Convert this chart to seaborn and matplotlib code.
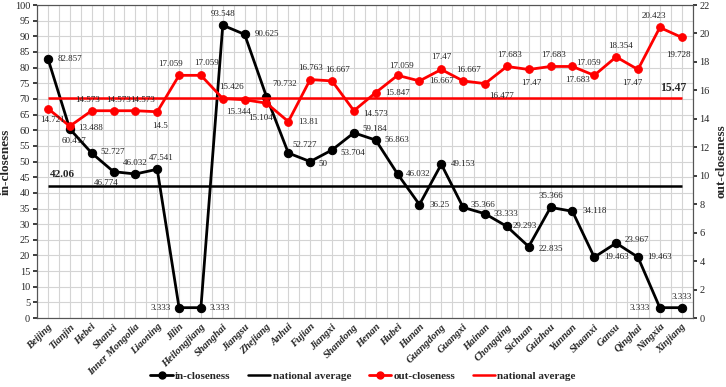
import matplotlib
matplotlib.use("Agg")
import matplotlib.pyplot as plt
import numpy as np
import seaborn as sns
from matplotlib.lines import Line2D

sns.set_theme(style="white")
plt.rcParams["font.family"] = ["Liberation Serif", "DejaVu Serif"]

provinces = ["Beijing", "Tianjin", "Hebei", "Shanxi", "Inner Mongolia", "Liaoning", "Jilin",
             "Heilongjiang", "Shanghai", "Jiangsu", "Zhejiang", "Anhui", "Fujian", "Jiangxi",
             "Shandong", "Henan", "Hubei", "Hunan", "Guangdong", "Guangxi", "Hainan",
             "Chongqing", "Sichuan", "Guizhou", "Yunnan", "Shaanxi", "Gansu", "Qinghai",
             "Ningxia", "Xinjiang"]
in_closeness = [82.857, 60.417, 52.727, 46.774, 46.032, 47.541, 3.333, 3.333, 93.548, 90.625,
                70.732, 52.727, 50, 53.704, 59.184, 56.863, 46.032, 36.25, 49.153, 35.366,
                33.333, 29.293, 22.835, 35.366, 34.118, 19.463, 23.967, 19.463, 3.333, 3.333]
out_closeness = [14.721, 13.488, 14.573, 14.573, 14.573, 14.5, 17.059, 17.059, 15.426, 15.344,
                 15.104, 13.81, 16.763, 16.667, 14.573, 15.847, 17.059, 16.667, 17.47, 16.667,
                 16.477, 17.683, 17.47, 17.683, 17.683, 17.059, 18.354, 17.47, 20.423, 19.728]
in_avg = 42.06
out_avg = 15.47

# label offsets in points (dx, dy, ha)
in_offsets = [(7, 0, "left"), (-6, -9, "left"), (6, 1, "left"), (-5, -8, "center"),
              (0, 8, "center"), (3, 8, "center"), (-6, 0, "right"), (6, 0, "left"),
              (0, 8, "center"), (7, 0, "left"), (4, 9, "left"), (3, 6, "left"),
              (6, -2, "left"), (6, -2, "left"), (6, 3, "left"), (6, 0, "left"),
              (6, 0, "left"), (7, 0, "left"), (7, 0, "left"), (5, 2, "left"),
              (6, 0, "left"), (4, 0, "left"), (7, -2, "left"), (0, 8, "center"),
              (7, 0, "left"), (7, 0, "left"), (6, 2, "left"), (7, 0, "left"),
              (-7, 0, "right"), (0, 8, "center")]
out_offsets = [(3, -8, "center"), (6, -1, "left"), (-3, 8, "center"), (4, 8, "center"),
               (5, 8, "center"), (2, -10, "center"), (-6, 8, "center"), (4, 9, "center"),
               (6, 8, "center"), (-4, -9, "center"), (-4, -11, "center"), (7, 0, "left"),
               (0, 8, "center"), (4, 8, "center"), (7, -2, "left"), (7, 0, "left"),
               (3, 7, "center"), (7, 0, "left"), (0, 9, "center"), (4, 8, "center"),
               (3, -9, "left"), (2, 8, "center"), (2, -10, "center"), (2, 8, "center"),
               (4, -10, "center"), (-4, 9, "center"), (3, 8, "center"), (-4, -10, "center"),
               (-4, 8, "center"), (-2, -13, "center")]

x = np.arange(len(provinces))

fig, ax = plt.subplots(figsize=(7.26, 3.87), dpi=100)
fig.subplots_adjust(left=0.051, right=0.954, top=0.987, bottom=0.178)
ax2 = ax.twinx()

sns.lineplot(x=x, y=in_closeness, ax=ax, color="black", linewidth=2, marker="o",
             markersize=6, markeredgecolor="black", zorder=3)
ax.hlines(in_avg, x[0], x[-1], color="black", linewidth=1.8, zorder=2)
sns.lineplot(x=x, y=out_closeness, ax=ax2, color="#ff0000", linewidth=2, marker="o",
             markersize=5.5, markeredgecolor="#ff0000", zorder=3)
ax2.hlines(out_avg, x[0], x[-1], color="#ff0000", linewidth=1.8, zorder=2)

for xi, v, (dx, dy, ha) in zip(x, in_closeness, in_offsets):
    ax.annotate(f"{v:g}", (xi, v), xytext=(dx, dy), textcoords="offset points",
                ha=ha, va="center", fontsize=6.5, color="#222222", zorder=5)
for xi, v, (dx, dy, ha) in zip(x, out_closeness, out_offsets):
    ax2.annotate(f"{v:g}", (xi, v), xytext=(dx, dy), textcoords="offset points",
                 ha=ha, va="center", fontsize=6.5, color="#222222", zorder=5)

ax.text(x[0] + 0.1, in_avg + 2.5, f"{in_avg:.2f}", fontsize=8, fontweight="bold", ha="left", va="bottom")
ax2.text(x[-1] + 0.2, out_avg + 0.3, f"{out_avg:.2f}", fontsize=8.5, fontweight="bold",
         ha="right", va="bottom")

ax.set_xlim(-0.5, len(provinces) - 0.5)
ax.set_ylim(0, 100)
ax.set_yticks(np.arange(0, 101, 5))
ax2.set_ylim(0, 22)
ax2.set_yticks(np.arange(0, 23, 2))
ax.set_xticks(x)
ax.set_xticks(np.arange(-0.5, len(provinces), 0.5), minor=True)
ax.set_xticklabels(provinces, rotation=45, ha="right", rotation_mode="anchor",
                   fontsize=7.5, fontweight="bold", fontstyle="italic")
ax.tick_params(axis="x", which="major", length=3, direction="in", pad=3)
ax.tick_params(axis="x", which="minor", length=0)
ax.tick_params(axis="y", length=3, labelsize=7.5, pad=2)
ax2.tick_params(axis="y", length=3, labelsize=7.5, pad=2)
ax.grid(True, which="major", axis="y", color="#d4d4d4", linewidth=0.8)
ax.grid(True, which="both", axis="x", color="#d4d4d4", linewidth=0.8)
ax.set_axisbelow(True)
ax.set_ylabel("in-closeness", fontsize=9.5, fontweight="bold", labelpad=2)
ax2.set_ylabel("out-closeness", fontsize=9.5, fontweight="bold", labelpad=4)
for a in (ax, ax2):
    for s in a.spines.values():
        s.set_color("#555555")
        s.set_linewidth(0.8)

handles = [
    Line2D([], [], color="black", linewidth=2, marker="o", markersize=5),
    Line2D([], [], color="black", linewidth=1.8),
    Line2D([], [], color="#ff0000", linewidth=2, marker="o", markersize=5),
    Line2D([], [], color="#ff0000", linewidth=1.8),
]
fig.legend(handles, ["in-closeness", "national average", "out-closeness", "national average"],
           loc="lower center", bbox_to_anchor=(0.5, -0.01), ncol=4, frameon=False,
           prop={"weight": "bold", "size": 8}, handlelength=2.0, handletextpad=0.2,
           columnspacing=1.6)

fig.savefig("out.png", dpi=100)
